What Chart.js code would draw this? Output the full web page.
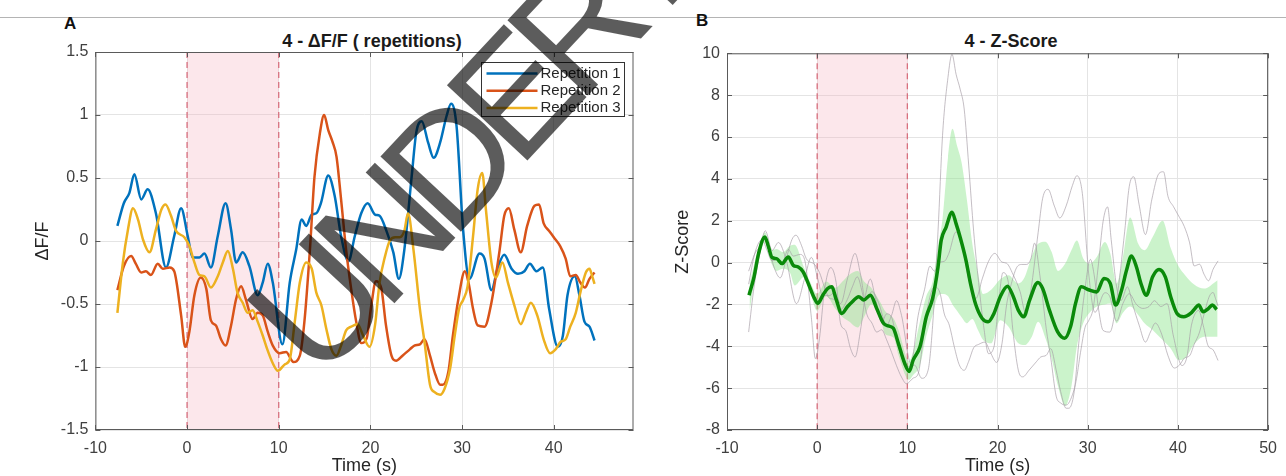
<!DOCTYPE html>
<html>
<head>
<meta charset="utf-8">
<script src="https://cdn.jsdelivr.net/npm/chart.js@4.4.1/dist/chart.umd.min.js"></script>
<style>
  body { margin: 0; background: #fff; width: 1286px; height: 476px; overflow: hidden; position: relative;
         font-family: "Liberation Sans", Arial, sans-serif; color: #262626; }
  canvas { position: absolute; top: 0; }
  #topline { position: absolute; left: 0; top: 17px; width: 1286px; height: 1px; background: #b4b4b4; }
  .panel { position: absolute; font-weight: bold; font-size: 17px; line-height: 1; color: #111; }
  .title { position: absolute; width: 400px; text-align: center; font-weight: bold; font-size: 18px; line-height: 1; color: #1a1a1a; }
  #mark { position: absolute; left: 0; top: 0; pointer-events: none; }
</style>
</head>
<body>
<div id="topline"></div>
<div class="panel" style="left:64px; top:15px">A</div>
<div class="panel" style="left:696px; top:12px">B</div>
<div class="title" style="left:172px; top:32px">4 - ΔF/F ( repetitions)</div>
<div class="title" style="left:811px; top:32px">4 - Z-Score</div>
<canvas id="chartA" width="643" height="476" style="left:0"></canvas>
<canvas id="chartB" width="643" height="476" style="left:643px"></canvas>
<svg id="mark" width="1286" height="476">
  <text x="319" y="384" transform="rotate(-47 319 384)" font-family="Liberation Sans, Arial, sans-serif"
        font-size="160" letter-spacing="-18" fill="rgba(0,0,0,0.64)">UNDER REVIEW</text>
</svg>
<script>
// stimulus window (s)
const stimWindow = [0, 10];

// axis ticks
const timeTicksA = [-10, 0, 10, 20, 30, 40];
const timeTicksB = [-10, 0, 10, 20, 30, 40, 50];
const dffTicks = [-1.5, -1, -0.5, 0, 0.5, 1, 1.5];
const zTicks = [-8, -6, -4, -2, 0, 2, 4, 6, 8, 10];

// panel A - dF/F per repetition
const rep1T = [-7.6,-6.9,-6.3,-5.75,-5.0,-4.3,-3.4,-2.3,-1.4,-0.65,0.07,0.6,1.35,1.9,2.6,3.35,4.2,4.8,5.35,6.07,6.8,7.7,8.25,8.8,9.35,10.4,11.2,11.9,12.5,13.0,13.6,14.1,14.6,15.4,16.1,16.8,17.6,18.3,19.0,19.7,20.5,21.0,21.7,22.5,23.1,23.7,24.5,25.0,25.6,26.3,26.9,27.6,28.3,28.8,29.4,30.1,30.8,31.9,32.45,33.2,33.9,34.6,35.4,36.1,36.8,37.4,38.1,38.8,39.5,40.45,41.0,41.5,42.3,42.8,43.35,43.9,44.45];
const rep1V = [0.12,0.3,0.38,0.53,0.33,0.41,0.22,-0.21,0.04,0.26,0.04,-0.13,-0.13,-0.1,-0.21,0.04,0.3,0.09,-0.17,-0.09,-0.2,-0.43,-0.33,-0.18,-0.33,-0.82,-0.33,-0.07,0.17,0.12,0.21,0.22,0.3,0.52,0.36,0.04,-0.16,0.04,0.22,0.3,0.21,0.2,0.09,-0.09,-0.3,-0.07,0.51,0.86,0.95,0.78,0.66,0.78,0.99,1.09,0.91,0.1,-0.3,-0.1,-0.14,-0.39,-0.21,-0.11,-0.22,-0.26,-0.24,-0.18,-0.24,-0.21,-0.54,-0.84,-0.75,-0.43,-0.28,-0.43,-0.64,-0.68,-0.79];

const rep2T = [-7.6,-6.9,-6.1,-5.6,-5.0,-4.5,-3.95,-3.2,-2.65,-1.9,-1.4,-0.65,-0.2,0.25,0.8,1.5,2.1,2.6,3.15,3.7,4.2,4.8,5.35,5.9,6.4,7.15,7.7,8.25,8.8,9.35,10.1,10.8,11.6,12.3,12.8,13.4,13.9,14.5,14.95,15.4,15.85,16.3,16.8,17.35,17.9,18.45,19.0,19.6,20.1,20.6,21.2,21.7,22.3,22.8,23.5,24.3,24.8,25.4,25.9,26.5,27.0,27.6,27.9,28.5,29.0,29.6,30.3,30.7,31.2,31.7,32.45,33.2,34.1,34.6,35.1,35.7,36.4,37.1,37.9,38.4,38.9,39.5,40.0,40.7,41.3,41.8,42.4,42.9,43.4,43.9,44.45];
const rep2V = [-0.39,-0.2,-0.12,-0.18,-0.25,-0.24,-0.27,-0.18,-0.22,-0.21,-0.24,-0.59,-0.84,-0.72,-0.43,-0.29,-0.38,-0.63,-0.67,-0.78,-0.83,-0.67,-0.46,-0.36,-0.46,-0.62,-0.57,-0.59,-0.72,-0.83,-0.89,-0.88,-0.96,-0.91,-0.64,-0.07,0.51,0.86,1.0,0.88,0.79,0.67,0.33,-0.07,-0.38,-0.64,-0.81,-0.77,-0.51,-0.32,-0.38,-0.67,-0.91,-0.95,-0.91,-0.86,-0.83,-0.82,-0.78,-0.91,-1.04,-1.14,-1.14,-1.04,-0.75,-0.46,-0.24,-0.33,-0.54,-0.67,-0.68,-0.49,-0.07,0.2,0.26,0.09,-0.09,0.12,0.28,0.29,0.14,0.08,0.03,-0.04,-0.14,-0.28,-0.27,-0.33,-0.37,-0.3,-0.25];

const rep3T = [-7.6,-7.0,-6.45,-5.9,-5.35,-4.8,-4.1,-3.4,-2.8,-2.35,-1.75,-1.2,-0.3,0.25,0.8,1.35,1.9,2.6,3.35,3.9,4.45,5.0,5.5,6.07,6.6,7.15,7.7,8.25,8.8,9.35,9.9,10.65,11.2,11.75,12.3,13.0,13.6,14.1,14.65,15.2,15.75,16.3,16.8,17.35,17.9,18.6,19.2,19.9,20.5,21.0,21.6,22.1,22.7,23.2,23.7,24.1,24.7,25.4,25.9,26.5,27.0,27.6,28.1,28.7,29.2,29.7,30.1,30.6,31.2,31.7,32.2,32.6,33.2,33.7,34.4,35.0,35.7,36.4,36.95,37.5,38.2,38.9,39.6,40.2,40.75,41.3,41.8,42.4,42.9,43.5,43.9,44.2,44.45];
const rep3V = [-0.57,-0.17,0.09,0.26,0.17,0.01,-0.09,0.09,0.25,0.29,0.2,0.08,0.03,-0.04,-0.17,-0.27,-0.28,-0.37,-0.28,-0.17,-0.08,-0.22,-0.41,-0.49,-0.57,-0.55,-0.64,-0.75,-0.87,-0.97,-1.03,-0.98,-0.94,-0.64,-0.33,-0.17,-0.22,-0.41,-0.51,-0.7,-0.86,-0.91,-0.83,-0.71,-0.68,-0.66,-0.75,-0.84,-0.67,-0.33,-0.12,0.0,0.03,0.03,0.08,0.22,-0.07,-0.54,-0.8,-1.14,-1.2,-1.22,-1.17,-1.01,-0.75,-0.53,-0.47,-0.36,0.04,0.41,0.54,0.25,-0.17,-0.29,-0.17,-0.33,-0.51,-0.66,-0.57,-0.49,-0.59,-0.78,-0.89,-0.86,-0.8,-0.78,-0.68,-0.57,-0.41,-0.25,-0.22,-0.28,-0.34];

// panel B - thin grey traces (one per repetition, same time points as above)
const z1 = [-0.41,0.44,0.82,1.52,0.58,0.96,0.06,-1.96,-0.78,0.25,-0.78,-1.58,-1.58,-1.44,-1.96,-0.78,0.44,-0.55,-1.77,-1.39,-1.91,-2.99,-2.52,-1.82,-2.52,-4.82,-2.52,-1.3,-0.17,-0.41,0.02,0.06,0.44,1.47,0.72,-0.78,-1.72,-0.78,0.06,0.44,0.02,-0.03,-0.55,-1.39,-2.38,-1.3,1.43,3.07,3.5,2.7,2.13,2.7,3.68,4.15,3.31,-0.5,-2.38,-1.44,-1.63,-2.8,-1.96,-1.49,-2.0,-2.19,-2.1,-1.82,-2.1,-1.96,-3.51,-4.92,-4.5,-2.99,-2.29,-2.99,-3.98,-4.17,-4.68];
const z2 = [-1.03,0.47,1.1,0.63,0.08,0.15,-0.08,0.63,0.31,0.39,0.15,-2.61,-4.59,-3.64,-1.35,-0.24,-0.95,-2.93,-3.24,-4.11,-4.51,-3.24,-1.58,-0.79,-1.58,-2.85,-2.45,-2.61,-3.64,-4.51,-4.98,-4.9,-5.53,-5.14,-3.01,1.5,6.08,8.84,9.95,9.0,8.29,7.34,4.66,1.5,-0.95,-3.01,-4.35,-4.03,-1.98,-0.48,-0.95,-3.24,-5.14,-5.46,-5.14,-4.74,-4.51,-4.43,-4.11,-5.14,-6.17,-6.96,-6.96,-6.17,-3.88,-1.58,0.15,-0.56,-2.22,-3.24,-3.32,-1.82,1.5,3.63,4.1,2.76,1.34,3.0,4.26,4.34,3.16,2.68,2.29,1.73,0.94,-0.16,-0.08,-0.56,-0.87,-0.32,0.08];
const z3 = [-3.32,-1.16,0.23,1.15,0.66,-0.2,-0.73,0.23,1.1,1.31,0.83,0.18,-0.09,-0.47,-1.16,-1.7,-1.76,-2.24,-1.76,-1.16,-0.68,-1.43,-2.46,-2.89,-3.32,-3.21,-3.69,-4.29,-4.93,-5.47,-5.79,-5.52,-5.31,-3.69,-2.03,-1.16,-1.43,-2.46,-2.99,-4.02,-4.88,-5.15,-4.72,-4.07,-3.91,-3.8,-4.29,-4.77,-3.85,-2.03,-0.9,-0.25,-0.09,-0.09,0.18,0.93,-0.63,-3.16,-4.55,-6.38,-6.71,-6.81,-6.54,-5.68,-4.29,-3.1,-2.78,-2.19,-0.03,1.96,2.66,1.1,-1.16,-1.81,-1.16,-2.03,-2.99,-3.8,-3.32,-2.89,-3.42,-4.45,-5.04,-4.88,-4.55,-4.45,-3.91,-3.32,-2.46,-1.6,-1.43,-1.76,-2.08];

// panel B - mean z-score
const meanT = [-7.56,-7.0,-6.5,-5.8,-5.4,-5.0,-4.5,-3.9,-3.2,-2.65,-2.1,-1.56,-0.84,-0.3,0.07,0.62,1.16,1.64,2.07,2.73,3.35,3.9,4.6,5.16,5.9,6.6,7.35,7.9,8.44,9.0,9.7,10.2,10.65,11.4,12.1,12.8,13.4,13.75,14.3,14.95,15.4,15.9,16.5,17.0,17.6,18.3,18.95,19.6,20.3,21.1,21.75,22.3,22.9,23.56,24.47,25.0,25.75,26.65,27.45,28.1,28.65,29.3,30.1,31.0,31.8,32.5,33.1,33.75,34.3,34.85,35.4,35.9,36.5,37.2,37.9,38.6,39.2,39.9,40.65,41.4,41.9,42.3,42.8,43.4,43.8,44.3];
const meanZ = [-1.56,-0.68,0.43,1.22,0.75,0.24,0.19,-0.05,0.27,-0.13,-0.21,-0.44,-1.16,-1.71,-1.95,-1.56,-1.24,-1.16,-1.71,-2.43,-2.11,-1.87,-1.63,-1.79,-1.56,-2.19,-2.9,-3.03,-3.14,-3.86,-4.81,-5.2,-4.65,-4.02,-2.59,-1.71,-0.21,1.06,1.7,2.41,1.86,1.14,0.11,-1.0,-2.03,-2.67,-2.83,-2.43,-1.63,-1.13,-1.63,-2.27,-2.59,-1.79,-0.95,-1.24,-2.27,-3.3,-3.62,-3.06,-1.95,-1.16,-1.3,-1.4,-0.76,-1.0,-2.03,-1.32,-0.37,0.32,-0.21,-1.0,-1.56,-0.68,-0.33,-0.68,-1.63,-2.43,-2.59,-2.43,-2.19,-2.03,-2.35,-2.19,-2.03,-2.24];

// panel B - shaded band around the mean
const bandT = [-7.5,-6.5,-5.8,-5.0,-4.5,-3.8,-3.0,-2.5,-1.5,-0.8,0,1.0,2.0,2.8,3.5,4.5,5.2,6.0,7.0,7.5,8.5,9.0,10.2,10.6,11.4,12.1,12.8,13.4,13.9,14.5,15.0,15.5,16.0,16.6,17.2,17.8,18.4,19.3,20.3,21.2,22.3,23.0,23.8,24.5,25.3,26.0,26.7,27.5,28.2,28.8,29.5,30.2,31.0,31.9,32.5,33.2,33.9,34.7,35.6,36.3,37.2,38.3,39.2,40.1,40.8,41.8,42.9,44.4];
const bandHi = [-1.0,0.7,1.45,0.6,0.65,0.5,0.8,0.85,-0.2,-0.9,-1.5,-0.9,-1.2,-0.9,-0.6,-0.4,-0.9,-1.2,-1.9,-2.3,-2.7,-3.2,-4.7,-4.3,-2.8,-1.6,-0.9,0.8,2.1,5.0,6.4,5.6,4.8,3.0,0.9,-0.4,-1.5,-1.3,-0.8,-0.6,-1.0,-0.7,0.3,0.9,1.0,0.5,-0.4,-0.05,0.6,1.06,0.2,-0.05,0.27,0.98,0.43,-1.0,0.27,2.15,0.9,0.59,1.22,2.0,0.7,-0.2,-0.6,-1.05,-1.24,-0.84];
const bandLo = [-2.3,0.1,1.0,-0.1,-0.4,-0.3,-0.5,-1.1,-0.7,-1.4,-2.3,-1.6,-2.2,-2.6,-2.8,-3.1,-2.6,-2.0,-2.6,-3.4,-3.6,-4.4,-5.6,-5.4,-4.9,-3.5,-2.5,-1.6,-1.5,-1.6,-2.0,-2.3,-2.6,-2.9,-2.7,-3.2,-3.7,-3.86,-2.75,-3.06,-3.86,-3.94,-3.54,-2.83,-3.6,-4.6,-5.9,-6.85,-5.9,-4.0,-2.9,-2.4,-2.1,-2.0,-1.95,-2.9,-2.4,-2.1,-2.5,-2.9,-3.22,-3.7,-4.1,-4.65,-4.57,-3.9,-3.54,-3.54];

Chart.defaults.font.family = '"Liberation Sans", Arial, sans-serif';
Chart.defaults.color = '#404040';

const pts = (ts, vs) => ts.map((t, i) => ({ x: t, y: vs[i] }));

// pink stimulus window with dashed borders
const stimPlugin = {
  id: 'stim',
  beforeDatasetsDraw(chart) {
    const { ctx, chartArea: a, scales: { x } } = chart;
    const x0 = x.getPixelForValue(stimWindow[0]);
    const x1 = x.getPixelForValue(stimWindow[1]);
    ctx.save();
    ctx.fillStyle = 'rgba(245,175,190,0.3)';
    ctx.fillRect(x0, a.top, x1 - x0, a.bottom - a.top);
    ctx.strokeStyle = '#d8707e';
    ctx.lineWidth = 1.3;
    ctx.setLineDash([6, 4]);
    [x0, x1].forEach(px => {
      ctx.beginPath();
      ctx.moveTo(px, a.top);
      ctx.lineTo(px, a.bottom);
      ctx.stroke();
    });
    ctx.restore();
  }
};

// matlab-like box with inward ticks
const framePlugin = {
  id: 'frame',
  afterDraw(chart) {
    const { ctx, chartArea: a, scales: { x, y } } = chart;
    ctx.save();
    ctx.strokeStyle = '#5a5a5a';
    ctx.lineWidth = 1;
    ctx.strokeRect(a.left + 0.5, a.top + 0.5, a.right - a.left - 1, a.bottom - a.top - 1);
    ctx.beginPath();
    x.ticks.forEach(t => {
      const px = Math.round(x.getPixelForValue(t.value)) + 0.5;
      ctx.moveTo(px, a.bottom); ctx.lineTo(px, a.bottom - 5);
      ctx.moveTo(px, a.top); ctx.lineTo(px, a.top + 5);
    });
    y.ticks.forEach(t => {
      const py = Math.round(y.getPixelForValue(t.value)) + 0.5;
      ctx.moveTo(a.left, py); ctx.lineTo(a.left + 5, py);
      ctx.moveTo(a.right, py); ctx.lineTo(a.right - 5, py);
    });
    ctx.stroke();
    ctx.restore();
  }
};

// legend box in the upper right of panel A
const legendPlugin = {
  id: 'boxLegend',
  afterDraw(chart) {
    const ctx = chart.ctx;
    const left = 481.5, top = 62.5, w = 143, h = 54;
    ctx.save();
    ctx.fillStyle = '#fff';
    ctx.fillRect(left, top, w, h);
    ctx.strokeStyle = '#333';
    ctx.lineWidth = 1;
    ctx.strokeRect(left, top, w, h);
    ctx.font = '15px "Liberation Sans", Arial, sans-serif';
    ctx.textBaseline = 'middle';
    chart.data.datasets.forEach((ds, i) => {
      const cy = top + 11 + i * 17.2;
      ctx.strokeStyle = ds.borderColor;
      ctx.lineWidth = 2.5;
      ctx.beginPath();
      ctx.moveTo(left + 5, cy);
      ctx.lineTo(left + 56, cy);
      ctx.stroke();
      ctx.fillStyle = '#262626';
      ctx.fillText(ds.label, left + 59, cy);
    });
    ctx.restore();
  }
};

function axisOpts(ticksArr, min, max, fitSize, horizontal, titleText, titlePad) {
  return {
    type: 'linear',
    min: min,
    max: max,
    afterBuildTicks: s => { s.ticks = ticksArr.map(v => ({ value: v })); },
    afterFit: s => { if (horizontal) s.height = fitSize; else s.width = fitSize; },
    grid: { color: '#e4e4e4', drawTicks: false },
    border: { display: false },
    ticks: {
      padding: horizontal ? 9 : 7,
      color: '#404040',
      font: { size: 16 },
      callback: v => String(v)
    },
    title: {
      display: true,
      text: titleText,
      color: '#262626',
      font: { size: 18 },
      padding: horizontal ? { top: 0, bottom: -1 } : { top: titlePad, bottom: 0 }
    }
  };
}

const line = (data, color, width, order) => ({
  data: data,
  borderColor: color,
  borderWidth: width,
  pointRadius: 0,
  cubicInterpolationMode: 'monotone',
  fill: false,
  order: order
});

new Chart(document.getElementById('chartA'), {
  type: 'line',
  data: {
    datasets: [
      Object.assign(line(pts(rep1T, rep1V), '#0072BD', 2.5, 3), { label: 'Repetition 1' }),
      Object.assign(line(pts(rep2T, rep2V), '#D95319', 2.5, 2), { label: 'Repetition 2' }),
      Object.assign(line(pts(rep3T, rep3V), '#EDB120', 2.5, 1), { label: 'Repetition 3' })
    ]
  },
  options: {
    responsive: false,
    animation: false,
    layout: { padding: { left: 0, top: 52, right: 9.5, bottom: 0 } },
    plugins: { legend: { display: false }, tooltip: { enabled: false } },
    scales: {
      x: axisOpts(timeTicksA, -10, 48.7, 46, true, 'Time (s)'),
      y: axisOpts(dffTicks, -1.5, 1.5, 95.4, false, 'ΔF/F', 32.3)
    }
  },
  plugins: [stimPlugin, framePlugin, legendPlugin]
});

new Chart(document.getElementById('chartB'), {
  type: 'line',
  data: {
    datasets: [
      Object.assign(line(pts(bandT, bandHi), 'rgba(0,0,0,0)', 0, 10), { label: 'upper' }),
      Object.assign(line(pts(bandT, bandLo), 'rgba(0,0,0,0)', 0, 9),
        { label: 'lower', fill: '-1', backgroundColor: 'rgba(140,228,140,0.45)' }),
      Object.assign(line(pts(rep1T, z1), 'rgba(165,155,165,0.65)', 1, 5), { label: 'z1' }),
      Object.assign(line(pts(rep2T, z2), 'rgba(165,155,165,0.65)', 1, 5), { label: 'z2' }),
      Object.assign(line(pts(rep3T, z3), 'rgba(165,155,165,0.65)', 1, 5), { label: 'z3' }),
      Object.assign(line(pts(meanT, meanZ), '#0a8a0a', 3.5, 0), { label: 'mean' })
    ]
  },
  options: {
    responsive: false,
    animation: false,
    layout: { padding: { left: 0, top: 53.3, right: 8, bottom: 0 } },
    plugins: { legend: { display: false }, tooltip: { enabled: false } },
    scales: {
      x: axisOpts(timeTicksB, -10, 50, 46, true, 'Time (s)'),
      y: axisOpts(zTicks, -8, 10, 84, false, 'Z-Score', 29.3)
    }
  },
  plugins: [stimPlugin, framePlugin]
});
</script>
</body>
</html>
